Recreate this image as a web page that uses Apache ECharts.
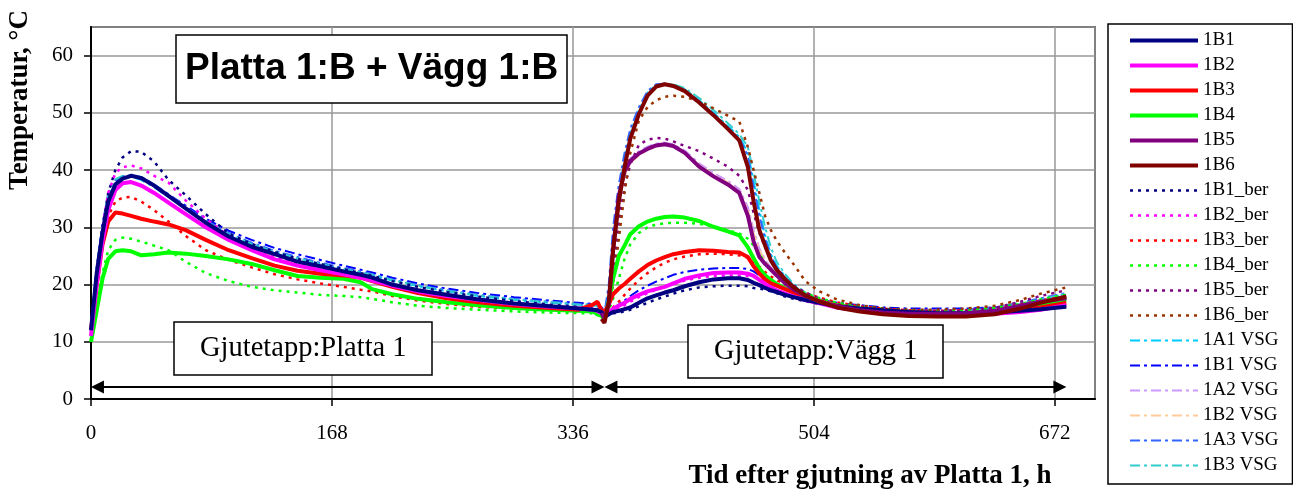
<!DOCTYPE html>
<html>
<head>
    <meta charset="utf-8">
    <title>Platta 1:B + Vägg 1:B</title>
    <style>
        html, body { margin: 0; padding: 0; background: #fff; }
    </style>
</head>
<body>
<div id="main" style="width: 1293px; height: 492px;"></div>

<script src="https://cdn.jsdelivr.net/npm/echarts@6/dist/echarts.min.js"></script>
<script>
    // tid (h) for plattans givare och VSG, resp. väggens givare
    var timeSlab = [0, 4, 8, 12, 17, 22, 28, 35, 44, 54, 66, 80, 96, 112, 128, 144, 160, 176, 188, 196,
        210, 228, 248, 270, 295, 320, 340, 350, 353,
        356, 358, 361, 364, 368, 372, 376, 382, 388, 394, 400, 406, 414, 424, 434, 444, 452, 458, 462, 466,
        470, 474, 478, 484, 490, 498, 508, 520, 536, 552, 570, 590, 610, 630, 648, 662, 680];
    var timeWall = [356, 358, 361, 364, 368, 372, 376, 382, 388, 394, 400, 406, 414, 424, 434, 444, 452, 458, 462, 466,
        470, 474, 478, 484, 490, 498, 508, 520, 536, 552, 570, 590, 610, 630, 648, 662, 680];

    // uppmätt
    var t1B1 = [12, 22, 29, 34.5, 37.5, 38.5, 39.0, 38.6, 37.3, 35.5, 33.3, 30.8, 28.4, 26.6, 25.3, 24.0, 23.2, 22.3, 21.7, 21.2,
        20.0, 19.0, 18.2, 17.4, 16.7, 16.2, 15.8, 15.6, 15.5,
        15.2, 14.3, 14.8, 15.2, 15.4, 15.7, 16.0, 16.8, 17.6, 18.1, 18.6, 19.0, 19.7, 20.4, 20.9, 21.1, 21.1, 20.8, 20.3, 19.9,
        19.4, 19.0, 18.7, 18.2, 17.8, 17.3, 16.8, 16.2, 15.8, 15.5, 15.2, 15.0, 15.0, 15.1, 15.4, 15.7, 16.1];
    var t1B2 = [11, 20, 27.5, 33, 36.5, 37.7, 37.9, 37.3, 36.0, 34.3, 32.3, 30.0, 27.8, 26.0, 24.4, 23.3, 22.5, 21.8, 21.2, 20.7,
        19.8, 18.8, 18.0, 17.3, 16.6, 16.1, 15.8, 15.6, 15.4,
        15.0, 14.6, 15.0, 15.8, 16.3, 16.8, 17.5, 18.2, 18.8, 19.2, 19.6, 20.2, 21.0, 21.6, 22.0, 22.1, 22.1, 21.9, 21.5, 20.8,
        20.1, 19.5, 19.0, 18.4, 17.9, 17.3, 16.7, 16.0, 15.5, 15.1, 14.8, 14.7, 14.7, 14.9, 15.2, 15.6, 16.4];
    var t1B3 = [12, 20, 27, 31, 32.6, 32.4, 32.0, 31.5, 31.0, 30.5, 29.5, 27.8, 26.0, 24.6, 23.3, 22.4, 21.9, 21.6, 21.2, 20.6,
        19.6, 18.5, 17.6, 16.9, 16.3, 15.9, 15.6, 16.5, 17.0,
        15.5, 15.2, 16.5, 18.3, 19.3, 20.1, 21.0, 22.3, 23.4, 24.2, 24.8, 25.3, 25.7, 26.0, 25.9, 25.7, 25.6, 24.8, 23.2, 21.9,
        20.9, 20.2, 19.8, 19.2, 18.6, 17.9, 17.1, 16.3, 15.7, 15.2, 14.9, 14.8, 14.8, 15.0, 15.5, 16.0, 16.8];
    var t1B4 = [10, 15.5, 21, 24.5, 25.8, 26.0, 25.8, 25.1, 25.3, 25.6, 25.4, 25.0, 24.4, 23.6, 22.5, 21.5, 21.2, 21.0, 20.4, 19.2,
        18.3, 17.5, 16.9, 16.4, 15.9, 15.6, 15.4, 15.3, 14.8,
        14.5, 14.0, 17.0, 21.0, 25.0, 26.8, 28.8, 30.2, 31.0, 31.5, 31.8, 31.9, 31.7, 31.1, 30.1, 29.3, 28.6, 26.5, 24.6, 22.8,
        21.6, 20.8, 20.1, 19.3, 18.7, 18.0, 17.2, 16.4, 15.8, 15.3, 15.0, 14.9, 15.0, 15.3, 15.9, 16.5, 17.3];
    var t1B5 = [15.0, 14.0, 16.5, 26, 35.5, 39.8, 41.6, 42.9, 43.7, 44.3, 44.5, 44.2, 43.0, 40.6, 38.9, 37.5, 36.0, 32.0, 27.5, 24.8,
        23.6, 22.6, 21.6, 20.2, 19.1, 18.0, 17.0, 16.2, 15.5, 15.1, 14.9, 14.9, 15.0, 15.4, 16.3, 17.0, 17.6];
    var t1B6 = [14.0, 13.3, 17, 26, 34.5, 40.5, 45.5, 49.8, 53.0, 54.6, 55.0, 54.7, 53.8, 51.8, 49.6, 47.2, 45.2, 40.5, 34.5, 29.5,
        26.8, 24.2, 22.6, 20.9, 19.5, 18.1, 17.0, 16.0, 15.3, 14.8, 14.5, 14.4, 14.4, 14.8, 15.8, 16.8, 17.9];

    // beräknat
    var t1B1ber = [12, 22, 30, 36, 40, 42.2, 43.3, 43.2, 41.5, 38.3, 35.6, 32.3, 28.9, 27.1, 25.7, 24.5, 23.6, 22.7, 22.0, 21.5,
        20.6, 19.6, 18.7, 17.9, 17.1, 16.5, 16.1, 15.9, 15.7,
        15.5, 15.3, 15.0, 15.0, 15.1, 15.3, 15.6, 16.2, 16.8, 17.4, 17.9, 18.4, 19.0, 19.5, 19.7, 19.8, 19.8, 19.7, 19.4, 19.3,
        19.1, 18.8, 18.5, 17.9, 17.5, 17.1, 16.6, 16.2, 15.8, 15.6, 15.4, 15.3, 15.4, 15.6, 16.1, 16.6, 17.2];
    var t1B2ber = [11, 21, 30, 36, 39.5, 40.5, 40.8, 40.3, 39.0, 37.8, 34.7, 31.5, 28.5, 26.4, 24.8, 23.6, 22.7, 21.9, 21.3, 20.8,
        19.9, 18.9, 18.0, 17.2, 16.5, 16.0, 15.7, 15.5, 15.3,
        15.2, 15.0, 15.0, 15.3, 15.8, 16.4, 17.0, 17.8, 18.5, 19.1, 19.6, 20.1, 20.7, 21.2, 21.5, 21.6, 21.6, 21.5, 21.3, 21.0,
        20.6, 20.2, 19.8, 19.2, 18.7, 18.1, 17.4, 16.7, 16.1, 15.7, 15.4, 15.3, 15.4, 15.7, 16.3, 16.9, 17.6];
    var t1B3ber = [12, 20, 27, 32, 34.5, 35.2, 35.3, 34.5, 33.0, 31.0, 28.5, 26.0, 24.3, 23.0, 21.8, 20.9, 20.2, 19.6, 19.1, 18.8,
        18.0, 17.2, 16.6, 16.1, 15.8, 15.5, 15.3, 15.2, 15.1,
        15.0, 15.0, 15.3, 16.0, 17.0, 18.2, 19.3, 20.8, 22.0, 23.0, 23.8, 24.4, 24.9, 25.3, 25.4, 25.3, 25.1, 24.7, 24.0, 23.1,
        22.2, 21.4, 20.8, 20.0, 19.3, 18.5, 17.7, 16.9, 16.2, 15.8, 15.5, 15.4, 15.5, 15.8, 16.5, 17.2, 17.9];
    var t1B4ber = [10, 16, 22, 26, 27.8, 28.2, 28.0, 27.5, 26.8, 26.0, 24.0, 22.0, 20.6, 19.6, 19.0, 18.6, 18.2, 18.0, 17.8, 17.5,
        16.9, 16.3, 15.9, 15.6, 15.3, 15.1, 15.0, 15.0, 14.9,
        14.8, 14.8, 15.5, 17.5, 21.0, 24.5, 27.0, 29.0, 30.0, 30.5, 30.7, 30.8, 30.8, 30.6, 30.1, 29.5, 28.9, 28.0, 26.8, 25.3,
        23.8, 22.5, 21.5, 20.3, 19.4, 18.5, 17.6, 16.8, 16.2, 15.8, 15.5, 15.4, 15.5, 15.9, 16.6, 17.4, 18.2];
    var t1B5ber = [15, 14.5, 16, 22, 31, 37, 41, 44.4, 45.3, 45.6, 45.5, 45.0, 44.2, 43.3, 42.0, 40.6, 39.0, 36.5, 32.5, 29.0,
        26.5, 24.5, 22.8, 21.0, 19.8, 18.6, 17.5, 16.6, 15.9, 15.5, 15.3, 15.3, 15.4, 15.9, 17.0, 18.0, 19.0];
    var t1B6ber = [15, 14.5, 16, 20, 28, 36, 43, 48.7, 51, 52.2, 52.8, 53.0, 52.8, 52.0, 50.8, 49.5, 48.5, 44.0, 40.0, 36.0,
        32.0, 29.5, 27.7, 25.5, 23.5, 20.6, 18.8, 17.4, 16.4, 15.8, 15.6, 15.6, 15.8, 16.3, 17.3, 18.4, 19.5];

    // VSG
    var t1A1vsg = [13, 23, 30, 35.5, 38.2, 38.8, 38.8, 38.3, 37.0, 35.3, 33.2, 30.9, 28.7, 27.0, 25.6, 24.5, 23.5, 22.6, 22.0, 21.6,
        20.7, 19.7, 18.8, 18.0, 17.3, 16.8, 16.5, 16.4, 16.3,
        15.5, 15.0, 19, 28, 36, 42, 46.5, 50.5, 53.5, 54.9, 55.1, 54.9, 54.1, 52.2, 50.0, 47.7, 45.8, 43.0, 38.0, 33.0,
        28.5, 25.3, 23.3, 21.4, 19.8, 18.4, 17.3, 16.4, 15.8, 15.4, 15.2, 15.1, 15.2, 15.6, 16.5, 17.3, 18.2];
    var t1B1vsg = [13, 23, 30.5, 35.8, 38.3, 38.8, 38.9, 38.5, 37.3, 35.7, 33.8, 31.5, 29.4, 27.8, 26.4, 25.3, 24.3, 23.3, 22.6, 22.1,
        21.2, 20.2, 19.3, 18.5, 17.8, 17.2, 16.8, 16.6, 16.5,
        16.0, 15.5, 15.4, 15.8, 16.5, 17.2, 18.0, 19.0, 19.8, 20.5, 21.1, 21.7, 22.2, 22.6, 22.8, 22.9, 22.9, 22.7, 22.3, 21.6,
        20.9, 20.2, 19.7, 19.1, 18.6, 18.0, 17.4, 16.8, 16.4, 16.0, 15.8, 15.8, 15.8, 16.0, 16.5, 17.0, 17.5];
    var t1A2vsg = [12, 21, 28.5, 33.5, 36.8, 37.8, 38.0, 37.4, 36.1, 34.5, 32.5, 30.2, 28.0, 26.3, 24.8, 23.7, 22.8, 22.0, 21.5, 21.0,
        20.1, 19.1, 18.2, 17.5, 16.8, 16.3, 16.0, 15.9, 15.8,
        15.0, 14.5, 18, 28, 36.5, 40.3, 42.0, 43.3, 44.1, 44.6, 44.8, 44.5, 43.4, 41.2, 39.5, 38.1, 36.7, 33.5, 29.5, 26.3,
        24.3, 23.0, 21.9, 20.5, 19.4, 18.3, 17.3, 16.5, 15.8, 15.4, 15.2, 15.2, 15.3, 15.7, 16.6, 17.3, 17.9];
    var t1B2vsg = [12, 20.5, 28, 33.2, 36.6, 37.6, 37.8, 37.2, 35.9, 34.3, 32.3, 30.0, 27.9, 26.2, 24.7, 23.6, 22.7, 21.9, 21.4, 20.9,
        20.0, 19.0, 18.1, 17.4, 16.7, 16.2, 15.9, 15.8, 15.7,
        15.0, 14.5, 17, 25, 34, 39, 41.2, 42.6, 43.5, 44.1, 44.3, 44.1, 43.1, 40.9, 39.2, 37.8, 36.3, 33.0, 29.0, 26.0,
        24.1, 22.8, 21.8, 20.4, 19.3, 18.2, 17.2, 16.4, 15.7, 15.3, 15.1, 15.1, 15.2, 15.6, 16.4, 17.1, 17.7];
    var t1A3vsg = [13, 22.5, 30, 35.3, 38.0, 38.9, 39.2, 38.8, 37.5, 35.8, 33.6, 31.2, 29.0, 27.3, 25.9, 24.8, 23.8, 22.9, 22.3, 21.8,
        20.9, 19.9, 19.0, 18.2, 17.5, 17.0, 16.6, 16.5, 16.4,
        15.3, 15.0, 20, 30, 37.5, 43, 47.2, 51, 53.8, 55.0, 55.1, 54.8, 53.9, 52.0, 49.8, 47.4, 45.5, 42.5, 37.0, 32.0,
        28.0, 25.0, 23.0, 21.2, 19.7, 18.3, 17.2, 16.4, 15.9, 15.6, 15.5, 15.5, 15.6, 16.0, 16.8, 17.6, 18.5];
    var t1B3vsg = [13, 22.8, 30.2, 35.6, 38.4, 39.0, 39.0, 38.5, 37.2, 35.5, 33.4, 31.0, 28.8, 27.1, 25.7, 24.6, 23.6, 22.7, 22.1, 21.7,
        20.8, 19.8, 18.9, 18.1, 17.4, 16.9, 16.5, 16.4, 16.3,
        15.3, 14.8, 18, 27, 35, 41, 46, 50.2, 53.3, 54.8, 55.0, 55.0, 54.3, 52.6, 50.5, 48.2, 46.3, 44.0, 39.5, 34.5,
        30.0, 26.5, 24.0, 21.8, 20.1, 18.6, 17.4, 16.5, 15.9, 15.5, 15.3, 15.2, 15.3, 15.7, 16.6, 17.4, 18.4];

    // gjutetapper (pilar) i tid, h
    var stageStart = [0, 358];
    var stageEnd = [358, 680];
    var arrowLevel = 2.1;

    var legendNames = ['1B1', '1B2', '1B3', '1B4', '1B5', '1B6',
        '1B1_ber', '1B2_ber', '1B3_ber', '1B4_ber', '1B5_ber', '1B6_ber',
        '1A1 VSG', '1B1 VSG', '1A2 VSG', '1B2 VSG', '1A3 VSG', '1B3 VSG'];

    var SERIF = '"Liberation Serif", "Times New Roman", serif';
    var SANS = '"Liberation Sans", Arial, sans-serif';

    var styles = {
        solid: { width: 4, type: 'solid' },
        ber: { width: 2.5, type: [3, 5] },
        vsg: { width: 2, type: [10, 4, 3, 4] }
    };

    var zip = function (xs, ys) {
        var d = [];
        for (var i = 0; i < xs.length; i++) {
            d.push([xs[i], ys[i]]);
        }
        return d;
    };

    var makeLine = function (name, xs, ys, color, kind) {
        return {
            name: name,
            type: 'line',
            symbol: 'none',
            showSymbol: false,
            animation: false,
            color: color,
            lineStyle: { color: color, width: styles[kind].width, type: styles[kind].type },
            data: zip(xs, ys)
        };
    };

    // ritordning: VSG underst, uppmätt överst
    var series = [
        makeLine('1A1 VSG', timeSlab, t1A1vsg, '#00CCFF', 'vsg'),
        makeLine('1B1 VSG', timeSlab, t1B1vsg, '#0000FF', 'vsg'),
        makeLine('1A2 VSG', timeSlab, t1A2vsg, '#CC99FF', 'vsg'),
        makeLine('1B2 VSG', timeSlab, t1B2vsg, '#FFCC99', 'vsg'),
        makeLine('1A3 VSG', timeSlab, t1A3vsg, '#3366FF', 'vsg'),
        makeLine('1B3 VSG', timeSlab, t1B3vsg, '#33CCCC', 'vsg'),
        makeLine('1B1_ber', timeSlab, t1B1ber, '#000080', 'ber'),
        makeLine('1B2_ber', timeSlab, t1B2ber, '#FF00FF', 'ber'),
        makeLine('1B3_ber', timeSlab, t1B3ber, '#FF0000', 'ber'),
        makeLine('1B4_ber', timeSlab, t1B4ber, '#00FF00', 'ber'),
        makeLine('1B5_ber', timeWall, t1B5ber, '#800080', 'ber'),
        makeLine('1B6_ber', timeWall, t1B6ber, '#993300', 'ber'),
        makeLine('1B4', timeSlab, t1B4, '#00FF00', 'solid'),
        makeLine('1B3', timeSlab, t1B3, '#FF0000', 'solid'),
        makeLine('1B2', timeSlab, t1B2, '#FF00FF', 'solid'),
        makeLine('1B1', timeSlab, t1B1, '#000080', 'solid'),
        makeLine('1B5', timeWall, t1B5, '#800080', 'solid'),
        makeLine('1B6', timeWall, t1B6, '#800000', 'solid')
    ];

    var arrows = [];
    for (var i = 0; i < stageStart.length; i++) {
        arrows.push([{ coord: [stageStart[i] + 4.5, arrowLevel] }, { coord: [stageEnd[i] - 4.5, arrowLevel] }]);
    }
    series.push({
        name: 'pilar',
        type: 'line',
        data: [],
        markLine: {
            silent: true,
            animation: false,
            symbol: ['triangle', 'triangle'],
            symbolSize: [13, 13],
            label: { show: false },
            lineStyle: { color: '#000', width: 2, type: 'solid' },
            data: arrows
        }
    });

    var myChart = echarts.init(document.getElementById('main'));

    var option = {
        backgroundColor: '#fff',
        animation: false,
        title: [
            {
                text: 'Platta 1:B + Vägg 1:B',
                left: 176, top: 35,
                padding: [14, 9, 14, 9],
                borderColor: '#000', borderWidth: 1.5, backgroundColor: '#fff',
                textStyle: { fontFamily: SANS, fontWeight: 'bold', fontSize: 37, lineHeight: 40, color: '#000' }
            },
            {
                text: 'Gjutetapp:Platta 1',
                left: 174, top: 322,
                padding: [11, 26, 11, 26],
                borderColor: '#000', borderWidth: 1.5, backgroundColor: '#fff',
                textStyle: { fontFamily: SERIF, fontWeight: 'normal', fontSize: 28.5, lineHeight: 31, color: '#000' }
            },
            {
                text: 'Gjutetapp:Vägg 1',
                left: 688, top: 325,
                padding: [11, 26, 11, 26],
                borderColor: '#000', borderWidth: 1.5, backgroundColor: '#fff',
                textStyle: { fontFamily: SERIF, fontWeight: 'normal', fontSize: 28.5, lineHeight: 31, color: '#000' }
            }
        ],
        legend: {
            data: legendNames,
            orient: 'vertical',
            left: 1108, top: 24,
            padding: [7, 14, 9, 20],
            itemWidth: 68, itemHeight: 14, itemGap: 6,
            borderColor: '#000', borderWidth: 1.5,
            itemStyle: { opacity: 0 },
            lineStyle: { width: 'inherit' },
            textStyle: { fontFamily: SERIF, fontSize: 19, color: '#000' }
        },
        grid: {
            left: 91, right: 198, top: 27, bottom: 93,
            show: true, borderColor: '#000', borderWidth: 1.5
        },
        xAxis: {
            type: 'value',
            min: 0, max: 700, interval: 168,
            axisLine: { show: true, onZero: false, lineStyle: { color: '#000', width: 2 } },
            axisTick: { show: true, length: 7, lineStyle: { color: '#000', width: 1.5 } },
            axisLabel: { showMaxLabel: false, margin: 24, fontFamily: SERIF, fontSize: 21, color: '#000' },
            splitLine: { show: true, lineStyle: { color: '#999', width: 1.5 } }
        },
        yAxis: {
            type: 'value',
            min: 0, max: 65, interval: 10,
            axisLine: { show: true, lineStyle: { color: '#000', width: 2 } },
            axisTick: { show: true, length: 7, lineStyle: { color: '#000', width: 1.5 } },
            axisLabel: { showMaxLabel: false, margin: 18, fontFamily: SERIF, fontSize: 21, color: '#000' },
            splitLine: { show: true, lineStyle: { color: '#999', width: 1.5 } }
        },
        graphic: [
            {
                type: 'text',
                x: 20, y: 100,
                rotation: Math.PI / 2,
                style: {
                    text: 'Temperatur, °C',
                    font: 'bold 27px ' + SERIF,
                    fill: '#000',
                    textAlign: 'center', textVerticalAlign: 'middle',
                    align: 'center', verticalAlign: 'middle'
                }
            },
            {
                type: 'text',
                x: 870, y: 476,
                style: {
                    text: 'Tid efter gjutning av Platta 1, h',
                    font: 'bold 27px ' + SERIF,
                    fill: '#000',
                    textAlign: 'center', textVerticalAlign: 'middle',
                    align: 'center', verticalAlign: 'middle'
                }
            }
        ],
        series: series
    };

    myChart.setOption(option);
</script>
</body>
</html>
